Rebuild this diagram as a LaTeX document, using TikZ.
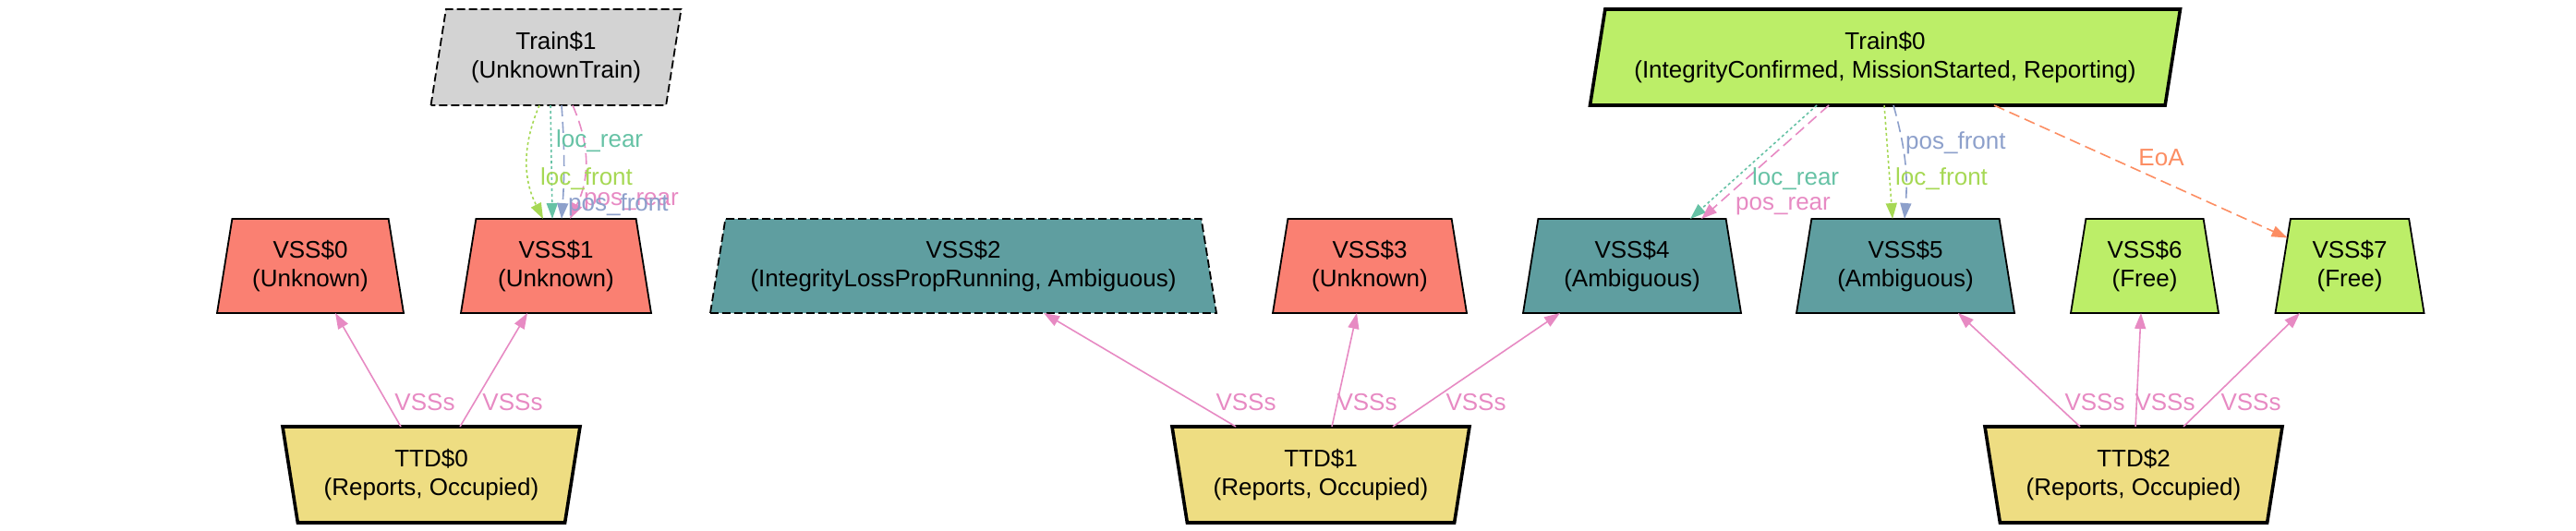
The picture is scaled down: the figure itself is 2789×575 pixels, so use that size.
\documentclass[tikz,border=0pt]{standalone}
\usepackage{fontspec}
\setmainfont{Liberation Sans}
\usetikzlibrary{shapes.geometric,arrows.meta}
\definecolor{cSalmon}{HTML}{FA8072}
\definecolor{cCadet}{HTML}{5F9EA0}
\definecolor{cOlive}{HTML}{BCEE68}
\definecolor{cGrey}{HTML}{D3D3D3}
\definecolor{cGold}{HTML}{EEDD82}
\definecolor{cTeal}{HTML}{66C2A5}
\definecolor{cOrange}{HTML}{FC8D62}
\definecolor{cBlue}{HTML}{8DA0CB}
\definecolor{cPink}{HTML}{E78AC3}
\definecolor{cGreen}{HTML}{A6D854}
\begin{document}
\begin{tikzpicture}[x=1pt,y=-1pt,
  font=\fontsize{26}{31}\selectfont,
  box/.style={trapezium, draw=black, line width=1.8pt, inner sep=0pt, outer sep=0pt,
    trapezium stretches body=true, align=center},
  vss/.style={box, trapezium left angle=73.6, trapezium right angle=73.6, minimum height=102pt},
  ttd/.style={box, line width=3.6pt, trapezium left angle=106.4, trapezium right angle=106.4,
    minimum height=104pt, minimum width=322pt, fill=cGold},
  train/.style={box, trapezium left angle=73.6, trapezium right angle=106.4, minimum height=104pt},
  nodedash/.style={dash pattern=on 9pt off 4pt},
  edge/.style={line width=1.6pt, -{Triangle[length=17pt,width=12pt]}},
  dotline/.style={dash pattern=on 3pt off 3pt},
  dashline/.style={dash pattern=on 12pt off 6pt},
  lbl/.style={inner sep=0pt, anchor=base west},
  clbl/.style={inner sep=0pt, anchor=base}
]
\useasboundingbox (0,0) rectangle (2789,575);

% trains
\node[train, fill=cGrey, nodedash, minimum width=271pt] (tr1) at (602,62) {Train\$1\\(UnknownTrain)};
\node[train, fill=cOlive, line width=3.6pt, minimum width=639pt] (tr0) at (2041,62)
  {Train\$0\\(IntegrityConfirmed, MissionStarted, Reporting)};

% VSS
\node[vss, fill=cSalmon, minimum width=202pt] (v0) at (336,288) {VSS\$0\\(Unknown)};
\node[vss, fill=cSalmon, minimum width=206pt] (v1) at (602,288) {VSS\$1\\(Unknown)};
\node[vss, fill=cCadet, nodedash, minimum width=548pt] (v2) at (1043,288) {VSS\$2\\(IntegrityLossPropRunning, Ambiguous)};
\node[vss, fill=cSalmon, minimum width=210pt] (v3) at (1483,288) {VSS\$3\\(Unknown)};
\node[vss, fill=cCadet, minimum width=236pt] (v4) at (1767,288) {VSS\$4\\(Ambiguous)};
\node[vss, fill=cCadet, minimum width=236pt] (v5) at (2063,288) {VSS\$5\\(Ambiguous)};
\node[vss, fill=cOlive, minimum width=160pt] (v6) at (2322,288) {VSS\$6\\(Free)};
\node[vss, fill=cOlive, minimum width=161pt] (v7) at (2544,288) {VSS\$7\\(Free)};

% TTD
\node[ttd] (t0) at (467,514) {TTD\$0\\(Reports, Occupied)};
\node[ttd] (t1) at (1430,514) {TTD\$1\\(Reports, Occupied)};
\node[ttd] (t2) at (2310,514) {TTD\$2\\(Reports, Occupied)};

% TTD -> VSS edges
\draw[edge, cPink] ([xshift=-33pt]t0.north) -- ([xshift=27pt]v0.south);
\draw[edge, cPink] ([xshift=31pt]t0.north) -- ([xshift=-31pt]v1.south);
\draw[edge, cPink] ([xshift=-92pt]t1.north) -- ([xshift=87pt]v2.south);
\draw[edge, cPink] ([xshift=12pt]t1.north) -- ([xshift=-14pt]v3.south);
\draw[edge, cPink] ([xshift=78pt]t1.north) -- ([xshift=-78pt]v4.south);
\draw[edge, cPink] ([xshift=-58pt]t2.north) -- ([xshift=57pt]v5.south);
\draw[edge, cPink] ([xshift=2pt]t2.north) -- ([xshift=-4pt]v6.south);
\draw[edge, cPink] ([xshift=54pt]t2.north) -- ([xshift=-54pt]v7.south);

\node[clbl, text=cPink] (lv1) at (460,444) {VSSs};
\node[clbl, text=cPink] (lv2) at (555,444) {VSSs};
\node[clbl, text=cPink] (lv3) at (1349,444) {VSSs};
\node[clbl, text=cPink] (lv4) at (1480,444) {VSSs};
\node[clbl, text=cPink] (lv5) at (1598,444) {VSSs};
\node[clbl, text=cPink] (lv6) at (2268,444) {VSSs};
\node[clbl, text=cPink] (lv7) at (2344,444) {VSSs};
\node[clbl, text=cPink] (lv8) at (2437,444) {VSSs};

% Train$1 -> VSS$1
\draw[edge, cGreen, dotline] ([xshift=-18pt]tr1.south) to[bend right=25] ([xshift=-14pt]v1.north);
\draw[edge, cTeal, dotline] ([xshift=-6pt]tr1.south) -- ([xshift=-4pt]v1.north);
\draw[edge, cBlue, dashline] ([xshift=6pt]tr1.south) to[bend left=4] ([xshift=6pt]v1.north);
\draw[edge, cPink, dashline] ([xshift=18pt]tr1.south) to[bend left=25] ([xshift=15pt]v1.north);

\node[lbl, text=cTeal] (l1) at (602,160) {loc\_rear};
\node[lbl, text=cGreen] (l2) at (585,200) {loc\_front};
\node[lbl, text=cPink] (l3) at (632,222) {pos\_rear};
\node[lbl, text=cBlue] (l4) at (615,228) {pos\_front};

% Train$0 edges
\draw[edge, cTeal, dotline] ([xshift=-74pt]tr0.south) -- ([xshift=63pt]v4.north);
\draw[edge, cPink, dashline] ([xshift=-61pt]tr0.south) -- ([xshift=75pt]v4.north);
\draw[edge, cGreen, dotline] ([xshift=-1pt]tr0.south) -- ([xshift=-14pt]v5.north);
\draw[edge, cBlue, dashline] ([xshift=9pt]tr0.south) to[bend left=10] ([xshift=-1pt]v5.north);
\draw[edge, cOrange, dashline] ([xshift=118pt]tr0.south) -- (v7);

\node[lbl, text=cTeal] (l5) at (1897,200) {loc\_rear};
\node[lbl, text=cPink] (l6) at (1879,227) {pos\_rear};
\node[lbl, text=cGreen] (l7) at (2052,200) {loc\_front};
\node[lbl, text=cBlue] (l8) at (2063,161) {pos\_front};
\node[clbl, text=cOrange] (l9) at (2340,179) {EoA};
\end{tikzpicture}
\end{document}
